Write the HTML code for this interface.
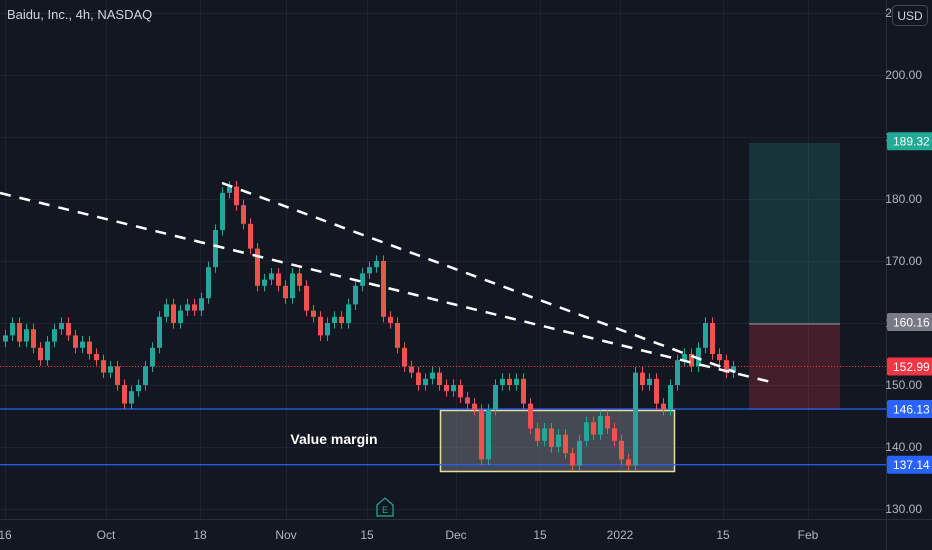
<!DOCTYPE html>
<html><head><meta charset="utf-8"><style>
html,body{margin:0;padding:0;background:#131722;}
svg{display:block;font-family:"Liberation Sans",sans-serif;}
</style></head><body>
<svg id="c" width="932" height="550" viewBox="0 0 932 550">
<rect x="0" y="0" width="932" height="550" fill="#131722"/>
<g id="grid"></g>
<rect x="749" y="143" width="91" height="181" fill="rgba(34,171,148,0.2)"/>
<rect x="749" y="324" width="91" height="86" fill="rgba(242,54,69,0.22)"/>
<line x1="749" y1="324" x2="840" y2="324" stroke="#9598a1" stroke-width="1"/>
<rect x="440.5" y="410.5" width="234" height="61" fill="rgba(120,123,134,0.5)" stroke="#e8dd95" stroke-width="1.5"/>
<g id="hlines"></g>
<g id="candles"></g>
<line x1="0" y1="193" x2="775" y2="383" stroke="#fff" stroke-width="2.5" stroke-dasharray="11 9"/>
<line x1="222" y1="183" x2="735" y2="372" stroke="#fff" stroke-width="2.5" stroke-dasharray="11 9"/>
<text x="334" y="444" fill="#fff" font-size="14" font-weight="bold" text-anchor="middle">Value margin</text>
<text x="7" y="19" fill="#d1d4dc" font-size="13">Baidu, Inc., 4h, NASDAQ</text>
<line x1="886.5" y1="0" x2="886.5" y2="550" stroke="#2a2e39"/>
<line x1="0" y1="519.5" x2="932" y2="519.5" stroke="#2a2e39"/>
<g id="yaxis"></g>
<g id="xaxis"></g>
<g id="labels"></g>
<rect x="892.5" y="5.5" width="35" height="20" rx="4" fill="#131722" stroke="#434651"/>
<text x="910" y="20" fill="#d1d4dc" font-size="12" text-anchor="middle">USD</text>
<path d="M377,505 L385,498 L393,505 L393,516 L377,516 Z" fill="none" stroke="#22ab94" stroke-width="1.2"/>
<text x="385" y="513" fill="#22ab94" font-size="9" text-anchor="middle">E</text>
</svg>
<script>
const closes=[158,160,157,159,156,154,157,159,160,158,156,157,155,154,152,153,150,147,149,150,153,156,161,163,160,162,163,162,164,169,175,181,182,179,176,172,166,167,168,166,164,168,166,162,161,158,160,161,160,163,166,168,169,170,161,160,156,153,152,150,151,152,150,149,150,148,147,146,138,146,150,151,150,151,147,143,141,143,140,142,139,137,141,144,142,145,143,141,138,137,152,150,151,147,146,150,154,155,153,156,160,155,154,152,153];
const firstOpen=157;
const yTicks=[210,200,190,180,170,160,150,140,130];
const yTickLabels=["210.00","200.00","190.00","180.00","170.00","160.00","150.00","140.00","130.00"];
const xTickLabels=["16","Oct","18","Nov","15","Dec","15","2022","15","Feb"];
const xTickPos=[5,106,200,286,367,456,540,620,723,808];
const priceLevels=[189.32,160.16,152.99,146.13,137.14];
const levelLabels=["189.32","160.16","152.99","146.13","137.14"];
const levelColors=["#22ab94","#787b86","#f23645","#2962ff","#2962ff"];
const NS="http://www.w3.org/2000/svg";
function y(p){return 75+(200-p)*6.2;}
function x(i){return 3+7*i;}
function mk(t,a,parent){const e=document.createElementNS(NS,t);for(const k in a)e.setAttribute(k,a[k]);parent.appendChild(e);return e;}
const grid=document.getElementById('grid');
yTicks.forEach((p,i)=>{const l=mk('line',{x1:0,x2:886,y1:y(p)+.5,y2:y(p)+.5,stroke:'#1f2330'},grid);


const t=mk('text',{x:922,y:y(p)+4,fill:'#b2b5be','font-size':12,'text-anchor':'end'},document.getElementById('yaxis'));
t.textContent=yTickLabels[i];

});
xTickPos.forEach((xp,i)=>{const l=mk('line',{x1:xp+.5,x2:xp+.5,y1:0,y2:519,stroke:'#1f2330'},grid);


const t=mk('text',{x:xp,y:539,fill:'#b2b5be','font-size':12,'text-anchor':'middle'},document.getElementById('xaxis'));
t.textContent=xTickLabels[i];

});
const hl=document.getElementById('hlines');
[3,4].forEach(k=>{const l=mk('line',{x1:0,x2:886,y1:y(priceLevels[k]),y2:y(priceLevels[k]),stroke:'#2962ff','stroke-width':1.2},hl);

});
const cl=mk('line',{x1:0,x2:886,y1:y(priceLevels[2]),y2:y(priceLevels[2]),stroke:'#f23645','stroke-width':1,'stroke-dasharray':'1 2'},hl);


const cg=document.getElementById('candles');
closes.forEach((c,i)=>{const o=i?closes[i-1]:firstOpen;const up=c>=o;const col=up?'#26a69a':'#ef5350';
const hi=Math.max(o,c)+0.9,lo=Math.min(o,c)-0.9;
const w=mk('line',{x1:x(i)+2.5,x2:x(i)+2.5,y1:y(hi),y2:y(lo),stroke:col,'stroke-width':1},cg);


const top=y(Math.max(o,c)),bot=y(Math.min(o,c));
const b=mk('rect',{x:x(i),y:top,width:5,height:Math.max(1,bot-top),fill:col},cg);

});
const lg=document.getElementById('labels');
priceLevels.forEach((p,i)=>{const r=mk('rect',{x:887,y:y(p)-9,width:50,height:18,rx:2,fill:levelColors[i]},lg);


const t=mk('text',{x:893,y:y(p)+4.5,fill:'#fff','font-size':12},lg);
t.textContent=levelLabels[i];

});
</script>
</body></html>
